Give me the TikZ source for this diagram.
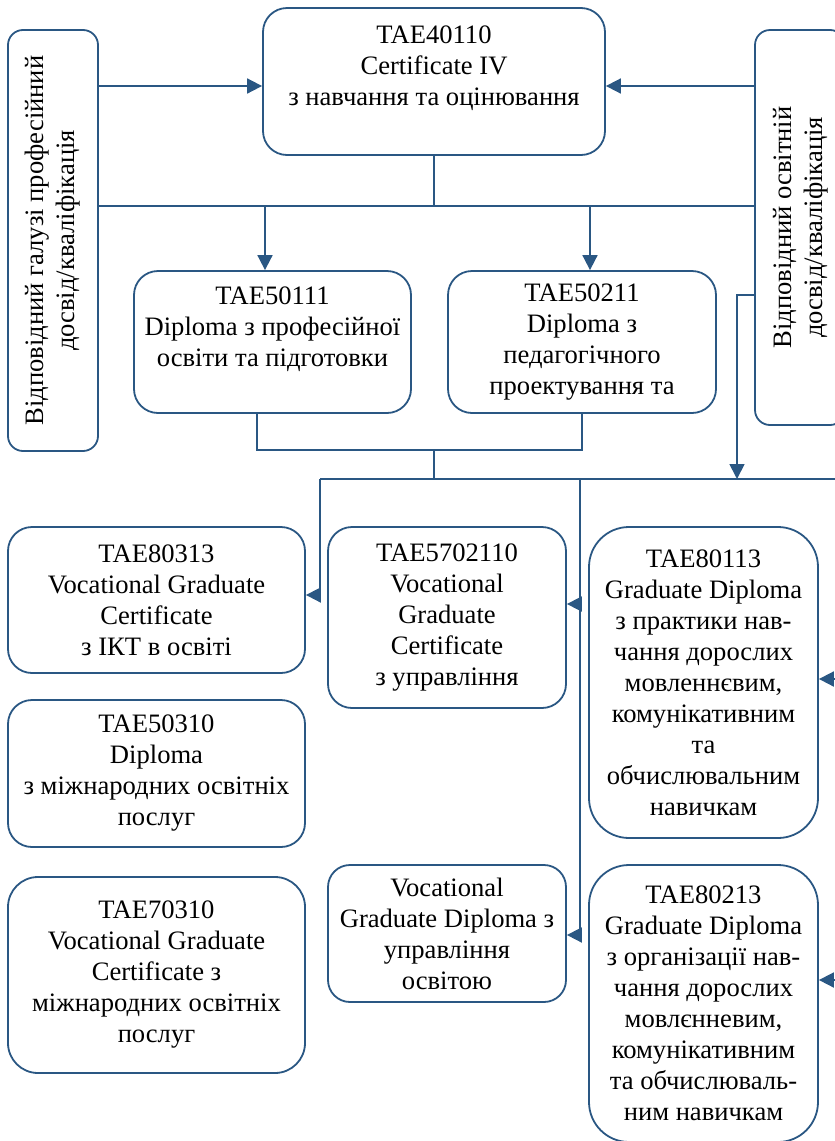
\documentclass[tikz,border=0pt]{standalone}
\usepackage{fontspec}
\setmainfont{Liberation Serif}
\usetikzlibrary{arrows.meta}
\definecolor{ln}{HTML}{2A5783}
\begin{document}
\begin{tikzpicture}[x=1pt,y=-1pt,
  box/.style={draw=ln, line width=1.8pt, rounded corners=24pt, inner sep=0pt, align=center, font=\fontsize{26.6}{31}\selectfont},
  vtext/.style={rotate=90, align=center, inner sep=0pt, font=\fontsize{26.6}{31}\selectfont},
  conn/.style={draw=ln, line width=1.8pt},
  arr/.style={conn, -{Triangle[length=15pt,width=15pt]}}]
\useasboundingbox (0,0) rectangle (835,1141);
\clip (0,0) rectangle (835,1141);

% side boxes
\node[box, rounded corners=15pt, minimum width=90pt, minimum height=421pt] (L) at (53,240.5) {};
\node[vtext] (Lt) at (L.center) {Відповідний галузі професійний\\досвід/кваліфікація};
\node[box, rounded corners=15pt, minimum width=90pt, minimum height=395pt] (R) at (800,227.5) {};
\node[vtext] (Rt) at ([xshift=1pt]R.center) {Відповідний освітній\\досвід/кваліфікація};

% top
\node[box, minimum width=342pt, minimum height=147pt] (T1) at (434,81.5) {TAE40110\\Certificate IV\\з навчання та оцінювання\\\mbox{}};
\node[box, minimum width=277pt, minimum height=142pt] (D1) at (272.5,342) {TAE50111\\Diploma з професійної\\освіти та підготовки\\\mbox{}};
\node[box, minimum width=268pt, minimum height=142pt] (D2) at (582,342) {TAE50211\\Diploma з\\педагогічного\\проектування та};

% lower rows
\node[box, minimum width=297pt, minimum height=146pt] (C1) at (156.5,600) {TAE80313\\Vocational Graduate\\Certificate\\з ІКТ в освіті};
\node[box, minimum width=238pt, minimum height=181pt] (C2) at (447,617.5) {TAE5702110\\Vocational\\Graduate\\Certificate\\з управління};
\node[box, rounded corners=40pt, minimum width=229pt, minimum height=311pt] (G1) at (703.5,682.5) {TAE80113\\Graduate Diploma\\з практики нав-\\чання дорослих\\мовленнєвим,\\комунікативним\\та\\обчислювальним\\навичкам};
\node[box, minimum width=297pt, minimum height=147pt] (E1) at (156.5,773.5) {TAE50310\\Diploma\\з міжнародних освітніх\\послуг};
\node[box, rounded corners=30pt, minimum width=297pt, minimum height=196pt] (E2) at (156.5,975) {TAE70310\\Vocational Graduate\\Certificate з\\міжнародних освітніх\\послуг};
\node[box, rounded corners=22pt, minimum width=238pt, minimum height=137pt] (V) at (447,933.5) {Vocational\\Graduate Diploma з\\управління\\освітою};
\node[box, rounded corners=40pt, minimum width=229pt, minimum height=277pt] (G2) at (703.5,1003.5) {TAE80213\\Graduate Diploma\\з організації нав-\\чання дорослих\\мовлєнневим,\\комунікативним\\та обчислюваль-\\ним навичкам};

% helper coordinates
\coordinate (y86) at (0,86);
\coordinate (b1) at (0,206);
\coordinate (b2) at (0,450);
\coordinate (b3) at (0,479);
\coordinate (y295) at (0,295);
\coordinate (y595) at (0,595);
\coordinate (y604) at (0,604);
\coordinate (y679) at (0,679);
\coordinate (y935) at (0,935);
\coordinate (y980) at (0,980);
\coordinate (x257) at (257,0);
\coordinate (x265) at (265,0);
\coordinate (x320) at (320,0);
\coordinate (x580) at (580,0);
\coordinate (x590) at (590,0);
\coordinate (x737) at (737,0);
\coordinate (x845) at (845,0);

% connectors
\draw[arr] (L.east |- y86) -- (T1.west |- y86);
\draw[arr] (R.west |- y86) -- (T1.east |- y86);
\draw[conn] (T1.south) -- (T1.south |- b1);
\draw[conn] (L.east |- b1) -- (R.west |- b1);
\draw[arr] (x265 |- b1) -- (x265 |- D1.north);
\draw[arr] (x590 |- b1) -- (x590 |- D2.north);
\draw[conn] (x257 |- D1.south) -- (x257 |- b2) -- (D2.south |- b2) -- (D2.south);
\draw[conn] (T1.south |- b2) -- (T1.south |- b3);
\draw[conn] (x320 |- b3) -- (x845 |- b3);
\draw[arr] (x320 |- b3) -- (x320 |- y595) -- (C1.east |- y595);
\draw[conn] (x580 |- b3) -- (x580 |- y935);
\draw[arr] (x580 |- y604) -- (C2.east |- y604);
\draw[arr] (x580 |- y935) -- (V.east |- y935);
\draw[arr] (R.west |- y295) -- (x737 |- y295) -- (x737 |- b3);
\draw[conn] (x845 |- b3) -- (x845 |- y980);
\draw[arr] (x845 |- y679) -- (G1.east |- y679);
\draw[arr] (x845 |- y980) -- (G2.east |- y980);
\end{tikzpicture}
\end{document}
